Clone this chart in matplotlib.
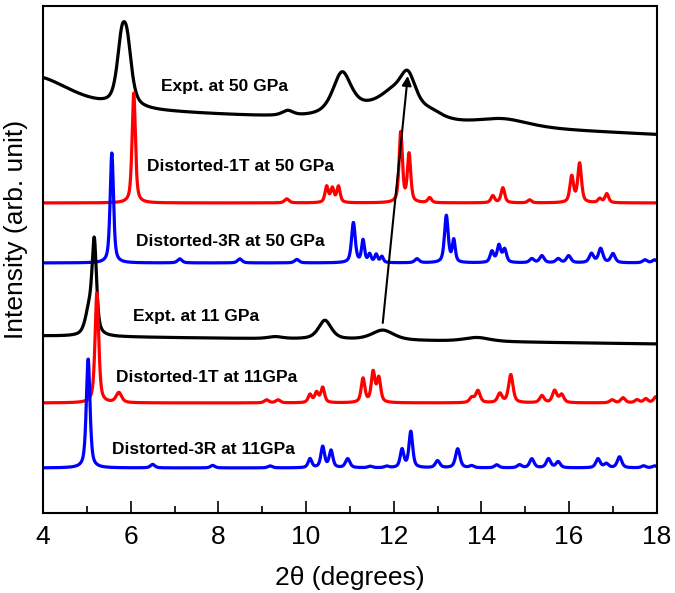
import numpy as np
import matplotlib
matplotlib.use("Agg")
import matplotlib.pyplot as plt

plt.rcParams['font.family'] = ['Liberation Sans', 'DejaVu Sans']

# peak lists: position (deg), height (arb.), FWHM (deg)
# heights are above each pattern's own baseline
expt50_pos = [3.8, 5.79, 5.92, 9.58, 10.82, 11.7, 11.95, 12.32, 12.85, 14.5]
expt50_h   = [31, 54, 52, 5, 40, 15, 12, 36, 6, 8]
expt50_w   = [2.0, 0.25, 0.25, 0.3, 0.5, 1.8, 0.6, 0.45, 0.6, 1.4]

t1_50_pos = [6.07, 9.56, 10.47, 10.60, 10.74, 12.16, 12.35, 12.82, 14.26, 14.49,
             15.10, 16.06, 16.24, 16.70, 16.86]
t1_50_h   = [110, 4, 16, 14, 16, 70, 48, 5, 7, 15, 3, 26, 39, 4, 9]
t1_50_w   = [0.09, 0.12, 0.09, 0.09, 0.09, 0.09, 0.09, 0.1, 0.1, 0.1,
             0.1, 0.1, 0.1, 0.1, 0.1]

r3_50_pos = [5.57, 7.12, 8.49, 9.79, 11.08, 11.30, 11.45, 11.60, 11.73, 12.53,
             13.20, 13.37, 14.24, 14.40, 14.53, 15.15, 15.38, 15.75, 15.99,
             16.51, 16.72, 17.00, 17.73, 17.95]
r3_50_h   = [110, 4, 4, 3.5, 40, 22, 8, 8, 6, 4, 47, 22, 11, 17, 13, 4, 7,
             4, 7, 9, 14, 9, 3, 3]
r3_50_w   = [0.09, 0.12, 0.12, 0.12, 0.1, 0.08, 0.08, 0.08, 0.08, 0.12,
             0.1, 0.08, 0.1, 0.1, 0.1, 0.12, 0.12, 0.12, 0.12, 0.12, 0.12,
             0.12, 0.12, 0.12]

expt11_pos = [5.05, 5.17, 9.30, 10.43, 11.75, 13.90]
expt11_h   = [24, 90, 2, 19, 10, 4]
expt11_w   = [0.2, 0.12, 0.4, 0.35, 0.6, 0.7]

t1_11_pos = [5.23, 5.73, 9.10, 9.36, 10.09, 10.24, 10.38, 11.30, 11.53, 11.66,
             13.78, 13.92, 14.42, 14.67, 15.38, 15.67, 15.83, 16.98, 17.23,
             17.55, 17.75, 17.98]
t1_11_h   = [110, 10, 3, 3, 8, 10, 15, 24, 30, 24, 5, 12, 9, 28, 7, 12, 8,
             3, 5, 3, 4, 6]
t1_11_w   = [0.1, 0.15, 0.12, 0.12, 0.1, 0.1, 0.1, 0.1, 0.1, 0.1, 0.12,
             0.12, 0.12, 0.12, 0.12, 0.12, 0.12, 0.12, 0.12, 0.12, 0.12, 0.12]

r3_11_pos = [5.03, 6.50, 7.87, 9.18, 10.09, 10.38, 10.57, 10.95, 11.46, 11.84,
             12.19, 12.39, 13.00, 13.46, 13.78, 14.35, 14.87, 15.15, 15.53,
             15.75, 16.66, 16.85, 17.15, 17.70, 17.95]
r3_11_h   = [109, 3.5, 2.5, 2, 9, 21, 17, 9, 1.5, 1.5, 18, 36, 7, 19, 2, 3,
             3, 9, 9, 6, 9, 4, 11, 2, 2]
r3_11_w   = [0.1, 0.12, 0.12, 0.12, 0.1, 0.1, 0.1, 0.12, 0.12, 0.12, 0.1,
             0.1, 0.12, 0.12, 0.12, 0.12, 0.12, 0.12, 0.12, 0.12, 0.12, 0.12,
             0.12, 0.12, 0.12]

# baselines (left end, right end), vertical offsets of the stack
base_expt50 = (405, 378)
base_t1_50 = (310, 310)
base_r3_50 = (250, 250)
base_expt11 = (177, 169)
base_t1_11 = (110, 110)
base_r3_11 = (45, 45)

labels = ['Expt. at 50 GPa', 'Distorted-1T at 50 GPa', 'Distorted-3R at 50 GPa',
          'Expt. at 11 GPa', 'Distorted-1T at 11GPa', 'Distorted-3R at 11GPa']


def pattern(x, pos, h, w, base, eta):
    y = np.linspace(base[0], base[1], len(x))
    for p, a, fw in zip(pos, h, w):
        g = np.exp(-4 * np.log(2) * ((x - p) / fw) ** 2)
        l = 1 / (1 + (2 * (x - p) / fw) ** 2)
        y = y + a * (eta * l + (1 - eta) * g)
    return y


x = np.linspace(4, 18, 3000)
curves = [
    (expt50_pos, expt50_h, expt50_w, base_expt50, 0.6, 'black'),
    (t1_50_pos, t1_50_h, t1_50_w, base_t1_50, 0.6, '#ff0000'),
    (r3_50_pos, r3_50_h, r3_50_w, base_r3_50, 0.6, '#0000ff'),
    (expt11_pos, expt11_h, expt11_w, base_expt11, 0.6, 'black'),
    (t1_11_pos, t1_11_h, t1_11_w, base_t1_11, 0.6, '#ff0000'),
    (r3_11_pos, r3_11_h, r3_11_w, base_r3_11, 0.6, '#0000ff'),
]

fig = plt.figure(figsize=(6.75, 5.93), dpi=100)
ax = fig.add_axes([0.0637, 0.135, 0.9093, 0.855])

for pos, h, w, base, eta, c in curves:
    ax.plot(x, pattern(x, pos, h, w, base, eta), color=c, lw=2.3)

label_xy = [(6.69, 426), (6.37, 346), (6.12, 271), (6.05, 196), (5.66, 135), (5.57, 63)]
for (lx, ly), t in zip(label_xy, labels):
    ax.text(lx, ly, t, fontsize=12.5, fontweight='bold', va='center')

ax.annotate('', xy=(12.32, 437), xytext=(11.75, 190),
            arrowprops=dict(arrowstyle='-|>', color='black', lw=1.5,
                            mutation_scale=14, shrinkA=0, shrinkB=0))

ax.set_xlim(4, 18)
ax.set_ylim(0, 507)
ax.set_xticks(np.arange(4, 19, 2))
ax.set_xticks(np.arange(5, 18, 2), minor=True)
ax.set_yticks([])
ax.tick_params(axis='x', which='both', direction='in', labelsize=19, pad=9, width=1.2)
ax.tick_params(axis='x', which='major', length=9)
ax.tick_params(axis='x', which='minor', length=5)
for s in ax.spines.values():
    s.set_linewidth(1.5)
ax.set_xlabel('2θ (degrees)', fontsize=19, labelpad=12)
ax.set_ylabel('Intensity (arb. unit)', fontsize=19)
ax.yaxis.set_label_coords(-0.025, 0.56)

fig.savefig('out.png', dpi=100)
